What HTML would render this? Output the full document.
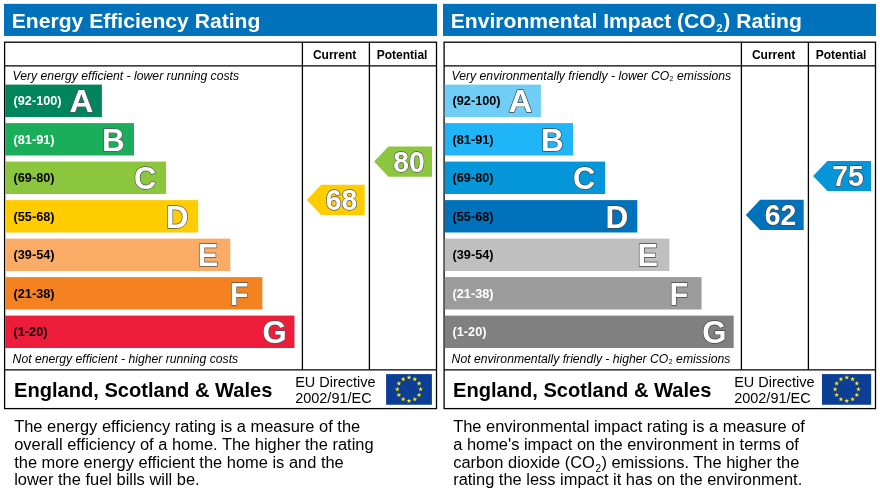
<!DOCTYPE html>
<html lang="en"><head><meta charset="utf-8"><title>Energy Performance Certificate Ratings</title>
<style>
html,body{margin:0;padding:0;background:#fff}
body{width:880px;height:493px;overflow:hidden}
svg{display:block;font-family:"Liberation Sans", sans-serif}
</style></head><body>
<svg width="880" height="493" viewBox="0 0 880 493">
<rect width="880" height="493" fill="#fff"/>
<rect x="4" y="3.85" width="433" height="32.1" fill="#0072bc"/>
<text x="11.8" y="27.65" font-size="21.1" font-weight="bold" fill="#fff">Energy Efficiency Rating</text>
<rect x="4.6" y="42.2" width="431.9" height="366.40000000000003" fill="#fff" stroke="#000" stroke-width="1.3"/>
<line x1="302.4" y1="42.2" x2="302.4" y2="369.9" stroke="#000" stroke-width="1.3"/>
<line x1="369.4" y1="42.2" x2="369.4" y2="369.9" stroke="#000" stroke-width="1.3"/>
<line x1="4.6" y1="65.9" x2="436.5" y2="65.9" stroke="#000" stroke-width="1.3"/>
<line x1="4.6" y1="369.9" x2="436.5" y2="369.9" stroke="#000" stroke-width="1.3"/>
<text x="334.6" y="58.8" font-size="12" font-weight="bold" text-anchor="middle" fill="#000">Current</text>
<text x="402.1" y="58.8" font-size="12" font-weight="bold" text-anchor="middle" fill="#000">Potential</text>
<text x="12.6" y="79.8" font-size="12.2" font-style="italic" fill="#000">Very energy efficient - lower running costs</text>
<text x="12.6" y="362.8" font-size="12.2" font-style="italic" fill="#000">Not energy efficient - higher running costs</text>
<rect x="5.199999999999999" y="84.60" width="96.70" height="32.4" fill="#00855a"/>
<text x="13.6" y="105.35" font-size="12.7" font-weight="bold" fill="#fff">(92-100)</text>
<text transform="translate(69.40 112.45) scale(1.07 1.045)" font-size="30.8" font-weight="bold" fill="#fff" stroke="#555" stroke-width="1.3" paint-order="stroke" stroke-linejoin="round">A</text>
<rect x="5.199999999999999" y="123.10" width="128.79" height="32.4" fill="#1aad5a"/>
<text x="13.6" y="143.85" font-size="12.7" font-weight="bold" fill="#fff">(81-91)</text>
<text transform="translate(101.94 150.95) scale(1.02 1.045)" font-size="30.8" font-weight="bold" fill="#fff" stroke="#555" stroke-width="1.3" paint-order="stroke" stroke-linejoin="round">B</text>
<rect x="5.199999999999999" y="161.60" width="160.88" height="32.4" fill="#8cc63f"/>
<text x="13.6" y="182.35" font-size="12.7" font-weight="bold" fill="#000">(69-80)</text>
<text transform="translate(133.98 189.45) scale(1.0 1.045)" font-size="30.8" font-weight="bold" fill="#fff" stroke="#555" stroke-width="1.3" paint-order="stroke" stroke-linejoin="round">C</text>
<rect x="5.199999999999999" y="200.10" width="192.97" height="32.4" fill="#ffcc00"/>
<text x="13.6" y="220.85" font-size="12.7" font-weight="bold" fill="#000">(55-68)</text>
<text transform="translate(165.77 227.95) scale(1.026 1.045)" font-size="30.8" font-weight="bold" fill="#fff" stroke="#555" stroke-width="1.3" paint-order="stroke" stroke-linejoin="round">D</text>
<rect x="5.199999999999999" y="238.60" width="225.06" height="32.4" fill="#faac67"/>
<text x="13.6" y="259.35" font-size="12.7" font-weight="bold" fill="#000">(39-54)</text>
<text transform="translate(197.76 266.45) scale(1.0 1.045)" font-size="30.8" font-weight="bold" fill="#fff" stroke="#555" stroke-width="1.3" paint-order="stroke" stroke-linejoin="round">E</text>
<rect x="5.199999999999999" y="277.10" width="257.15" height="32.4" fill="#f58220"/>
<text x="13.6" y="297.85" font-size="12.7" font-weight="bold" fill="#000">(21-38)</text>
<text transform="translate(229.85 304.95) scale(1.0 1.045)" font-size="30.8" font-weight="bold" fill="#fff" stroke="#555" stroke-width="1.3" paint-order="stroke" stroke-linejoin="round">F</text>
<rect x="5.199999999999999" y="315.60" width="289.24" height="32.4" fill="#ed1c3a"/>
<text x="13.6" y="336.35" font-size="12.7" font-weight="bold" fill="#000">(1-20)</text>
<text transform="translate(262.54 343.45) scale(1.01 1.045)" font-size="30.8" font-weight="bold" fill="#fff" stroke="#555" stroke-width="1.3" paint-order="stroke" stroke-linejoin="round">G</text>
<polygon points="306.80,199.90 321.10,184.80 364.70,184.80 364.70,215.00 321.10,215.00" fill="#ffcc00"/>
<text transform="translate(341.60 209.85) scale(1 1.04)" font-size="28.3" font-weight="bold" text-anchor="middle" fill="#fff" stroke="#555" stroke-width="1.3" paint-order="stroke" stroke-linejoin="round">68</text>
<polygon points="374.10,161.60 388.40,146.50 432.00,146.50 432.00,176.70 388.40,176.70" fill="#8cc63f"/>
<text transform="translate(408.90 171.55) scale(1 1.04)" font-size="28.3" font-weight="bold" text-anchor="middle" fill="#fff" stroke="#555" stroke-width="1.3" paint-order="stroke" stroke-linejoin="round">80</text>
<text x="14.05" y="396.8" font-size="20.1" font-weight="bold" fill="#000">England, Scotland &amp; Wales</text>
<text x="295.2" y="386.95" font-size="14.48" fill="#000">EU Directive</text>
<text x="295.2" y="403.15" font-size="14.48" fill="#000">2002/91/EC</text>
<rect x="386.1" y="374.1" width="45.8" height="30.65" fill="#0b3e94"/>
<polygon points="409.00,375.10 409.59,376.79 411.38,376.83 409.95,377.91 410.47,379.62 409.00,378.60 407.53,379.62 408.05,377.91 406.62,376.83 408.41,376.79" fill="#ffea14"/>
<polygon points="414.82,376.66 415.41,378.35 417.20,378.39 415.78,379.47 416.29,381.18 414.82,380.16 413.36,381.18 413.87,379.47 412.45,378.39 414.24,378.35" fill="#ffea14"/>
<polygon points="419.09,380.93 419.68,382.62 421.47,382.65 420.04,383.73 420.56,385.45 419.09,384.43 417.62,385.45 418.14,383.73 416.71,382.65 418.50,382.62" fill="#ffea14"/>
<polygon points="420.65,386.75 421.24,388.44 423.03,388.48 421.60,389.56 422.12,391.27 420.65,390.25 419.18,391.27 419.70,389.56 418.27,388.48 420.06,388.44" fill="#ffea14"/>
<polygon points="419.09,392.57 419.68,394.27 421.47,394.30 420.04,395.38 420.56,397.10 419.09,396.07 417.62,397.10 418.14,395.38 416.71,394.30 418.50,394.27" fill="#ffea14"/>
<polygon points="414.82,396.84 415.41,398.53 417.20,398.57 415.78,399.65 416.29,401.36 414.82,400.34 413.36,401.36 413.87,399.65 412.45,398.57 414.24,398.53" fill="#ffea14"/>
<polygon points="409.00,398.40 409.59,400.09 411.38,400.13 409.95,401.21 410.47,402.92 409.00,401.90 407.53,402.92 408.05,401.21 406.62,400.13 408.41,400.09" fill="#ffea14"/>
<polygon points="403.18,396.84 403.76,398.53 405.55,398.57 404.13,399.65 404.64,401.36 403.18,400.34 401.71,401.36 402.22,399.65 400.80,398.57 402.59,398.53" fill="#ffea14"/>
<polygon points="398.91,392.57 399.50,394.27 401.29,394.30 399.86,395.38 400.38,397.10 398.91,396.07 397.44,397.10 397.96,395.38 396.53,394.30 398.32,394.27" fill="#ffea14"/>
<polygon points="397.35,386.75 397.94,388.44 399.73,388.48 398.30,389.56 398.82,391.27 397.35,390.25 395.88,391.27 396.40,389.56 394.97,388.48 396.76,388.44" fill="#ffea14"/>
<polygon points="398.91,380.93 399.50,382.62 401.29,382.65 399.86,383.73 400.38,385.45 398.91,384.43 397.44,385.45 397.96,383.73 396.53,382.65 398.32,382.62" fill="#ffea14"/>
<polygon points="403.18,376.66 403.76,378.35 405.55,378.39 404.13,379.47 404.64,381.18 403.18,380.16 401.71,381.18 402.22,379.47 400.80,378.39 402.59,378.35" fill="#ffea14"/>
<text x="14.2" y="432.20" font-size="16.45" fill="#000">The energy efficiency rating is a measure of the</text>
<text x="14.2" y="449.95" font-size="16.45" fill="#000">overall efficiency of a home. The higher the rating</text>
<text x="14.2" y="467.70" font-size="16.45" fill="#000">the more energy efficient the home is and the</text>
<text x="14.2" y="485.45" font-size="16.45" fill="#000">lower the fuel bills will be.</text>
<rect x="443" y="3.85" width="433" height="32.1" fill="#0072bc"/>
<text x="450.8" y="27.65" font-size="21.1" font-weight="bold" fill="#fff">Environmental Impact (CO<tspan font-size="11.4" dy="4.05" dx="0.6" >2</tspan><tspan dy="-4.05" dx="0.7">) Rating</tspan></text>
<rect x="444.1" y="42.2" width="431.4" height="366.40000000000003" fill="#fff" stroke="#000" stroke-width="1.3"/>
<line x1="741.4" y1="42.2" x2="741.4" y2="369.9" stroke="#000" stroke-width="1.3"/>
<line x1="808.4" y1="42.2" x2="808.4" y2="369.9" stroke="#000" stroke-width="1.3"/>
<line x1="444.1" y1="65.9" x2="875.5" y2="65.9" stroke="#000" stroke-width="1.3"/>
<line x1="444.1" y1="369.9" x2="875.5" y2="369.9" stroke="#000" stroke-width="1.3"/>
<text x="773.6" y="58.8" font-size="12" font-weight="bold" text-anchor="middle" fill="#000">Current</text>
<text x="841.1" y="58.8" font-size="12" font-weight="bold" text-anchor="middle" fill="#000">Potential</text>
<text x="451.6" y="79.8" font-size="12.2" font-style="italic" fill="#000">Very environmentally friendly - lower CO<tspan font-size="6.8" dy="1.6" dx="0.3" font-style="normal">2</tspan><tspan dy="-1.6" dx="0.3"> emissions</tspan></text>
<text x="451.6" y="362.8" font-size="12.2" font-style="italic" fill="#000">Not environmentally friendly - higher CO<tspan font-size="6.8" dy="1.6" dx="0.3" font-style="normal">2</tspan><tspan dy="-1.6" dx="0.3"> emissions</tspan></text>
<rect x="444.70000000000005" y="84.60" width="96.20" height="32.4" fill="#70cdf5"/>
<text x="452.6" y="105.35" font-size="12.7" font-weight="bold" fill="#000">(92-100)</text>
<text transform="translate(508.40 112.45) scale(1.07 1.045)" font-size="30.8" font-weight="bold" fill="#fff" stroke="#444" stroke-width="1.3" paint-order="stroke" stroke-linejoin="round">A</text>
<rect x="444.70000000000005" y="123.10" width="128.33" height="32.4" fill="#20b4f8"/>
<text x="452.6" y="143.85" font-size="12.7" font-weight="bold" fill="#000">(81-91)</text>
<text transform="translate(540.98 150.95) scale(1.02 1.045)" font-size="30.8" font-weight="bold" fill="#fff" stroke="#444" stroke-width="1.3" paint-order="stroke" stroke-linejoin="round">B</text>
<rect x="444.70000000000005" y="161.60" width="160.46" height="32.4" fill="#0496d8"/>
<text x="452.6" y="182.35" font-size="12.7" font-weight="bold" fill="#000">(69-80)</text>
<text transform="translate(573.06 189.45) scale(1.0 1.045)" font-size="30.8" font-weight="bold" fill="#fff" stroke="#444" stroke-width="1.3" paint-order="stroke" stroke-linejoin="round">C</text>
<rect x="444.70000000000005" y="200.10" width="192.59" height="32.4" fill="#0072bc"/>
<text x="452.6" y="220.85" font-size="12.7" font-weight="bold" fill="#000">(55-68)</text>
<text transform="translate(605.39 227.95) scale(1.026 1.045)" font-size="30.8" font-weight="bold" fill="#fff" stroke="#444" stroke-width="1.3" paint-order="stroke" stroke-linejoin="round">D</text>
<rect x="444.70000000000005" y="238.60" width="224.72" height="32.4" fill="#bfbfbf"/>
<text x="452.6" y="259.35" font-size="12.7" font-weight="bold" fill="#000">(39-54)</text>
<text transform="translate(637.42 266.45) scale(1.0 1.045)" font-size="30.8" font-weight="bold" fill="#fff" stroke="#444" stroke-width="1.3" paint-order="stroke" stroke-linejoin="round">E</text>
<rect x="444.70000000000005" y="277.10" width="256.85" height="32.4" fill="#9c9c9c"/>
<text x="452.6" y="297.85" font-size="12.7" font-weight="bold" fill="#fff">(21-38)</text>
<text transform="translate(669.55 304.95) scale(1.0 1.045)" font-size="30.8" font-weight="bold" fill="#fff" stroke="#444" stroke-width="1.3" paint-order="stroke" stroke-linejoin="round">F</text>
<rect x="444.70000000000005" y="315.60" width="288.98" height="32.4" fill="#808080"/>
<text x="452.6" y="336.35" font-size="12.7" font-weight="bold" fill="#fff">(1-20)</text>
<text transform="translate(702.28 343.45) scale(1.01 1.045)" font-size="30.8" font-weight="bold" fill="#fff" stroke="#444" stroke-width="1.3" paint-order="stroke" stroke-linejoin="round">G</text>
<polygon points="745.80,214.90 760.10,199.80 803.70,199.80 803.70,230.00 760.10,230.00" fill="#0072bc"/>
<text transform="translate(780.60 224.85) scale(1 1.04)" font-size="28.3" font-weight="bold" text-anchor="middle" fill="#fff" stroke="#444" stroke-width="1.3" paint-order="stroke" stroke-linejoin="round">62</text>
<polygon points="813.10,176.00 827.40,160.90 871.00,160.90 871.00,191.10 827.40,191.10" fill="#0496d8"/>
<text transform="translate(847.90 185.95) scale(1 1.04)" font-size="28.3" font-weight="bold" text-anchor="middle" fill="#fff" stroke="#444" stroke-width="1.3" paint-order="stroke" stroke-linejoin="round">75</text>
<text x="453.05" y="396.8" font-size="20.1" font-weight="bold" fill="#000">England, Scotland &amp; Wales</text>
<text x="734.2" y="386.95" font-size="14.48" fill="#000">EU Directive</text>
<text x="734.2" y="403.15" font-size="14.48" fill="#000">2002/91/EC</text>
<rect x="821.95" y="374.1" width="49.2" height="30.65" fill="#0b3e94"/>
<polygon points="846.75,375.10 847.34,376.79 849.13,376.83 847.70,377.91 848.22,379.62 846.75,378.60 845.28,379.62 845.80,377.91 844.37,376.83 846.16,376.79" fill="#ffea14"/>
<polygon points="852.58,376.66 853.16,378.35 854.95,378.39 853.53,379.47 854.04,381.18 852.58,380.16 851.11,381.18 851.62,379.47 850.20,378.39 851.99,378.35" fill="#ffea14"/>
<polygon points="856.84,380.93 857.43,382.62 859.22,382.65 857.79,383.73 858.31,385.45 856.84,384.43 855.37,385.45 855.89,383.73 854.46,382.65 856.25,382.62" fill="#ffea14"/>
<polygon points="858.40,386.75 858.99,388.44 860.78,388.48 859.35,389.56 859.87,391.27 858.40,390.25 856.93,391.27 857.45,389.56 856.02,388.48 857.81,388.44" fill="#ffea14"/>
<polygon points="856.84,392.57 857.43,394.27 859.22,394.30 857.79,395.38 858.31,397.10 856.84,396.07 855.37,397.10 855.89,395.38 854.46,394.30 856.25,394.27" fill="#ffea14"/>
<polygon points="852.58,396.84 853.16,398.53 854.95,398.57 853.53,399.65 854.04,401.36 852.58,400.34 851.11,401.36 851.62,399.65 850.20,398.57 851.99,398.53" fill="#ffea14"/>
<polygon points="846.75,398.40 847.34,400.09 849.13,400.13 847.70,401.21 848.22,402.92 846.75,401.90 845.28,402.92 845.80,401.21 844.37,400.13 846.16,400.09" fill="#ffea14"/>
<polygon points="840.93,396.84 841.51,398.53 843.30,398.57 841.88,399.65 842.39,401.36 840.93,400.34 839.46,401.36 839.97,399.65 838.55,398.57 840.34,398.53" fill="#ffea14"/>
<polygon points="836.66,392.57 837.25,394.27 839.04,394.30 837.61,395.38 838.13,397.10 836.66,396.07 835.19,397.10 835.71,395.38 834.28,394.30 836.07,394.27" fill="#ffea14"/>
<polygon points="835.10,386.75 835.69,388.44 837.48,388.48 836.05,389.56 836.57,391.27 835.10,390.25 833.63,391.27 834.15,389.56 832.72,388.48 834.51,388.44" fill="#ffea14"/>
<polygon points="836.66,380.93 837.25,382.62 839.04,382.65 837.61,383.73 838.13,385.45 836.66,384.43 835.19,385.45 835.71,383.73 834.28,382.65 836.07,382.62" fill="#ffea14"/>
<polygon points="840.93,376.66 841.51,378.35 843.30,378.39 841.88,379.47 842.39,381.18 840.93,380.16 839.46,381.18 839.97,379.47 838.55,378.39 840.34,378.35" fill="#ffea14"/>
<text x="453.2" y="432.20" font-size="16.45" fill="#000">The environmental impact rating is a measure of</text>
<text x="453.2" y="449.95" font-size="16.45" fill="#000">a home's impact on the environment in terms of</text>
<text x="453.2" y="467.70" font-size="16.45" fill="#000">carbon dioxide (CO<tspan font-size="10" dy="4.1" dx="0.6" >2</tspan><tspan dy="-4.1" dx="0.4">) emissions. The higher the</tspan></text>
<text x="453.2" y="485.45" font-size="16.45" fill="#000">rating the less impact it has on the environment.</text>
</svg>
</body></html>
